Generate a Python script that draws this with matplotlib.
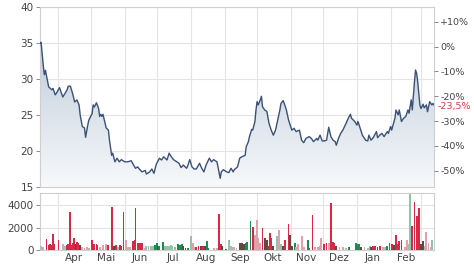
import numpy as np
import pandas as pd
import matplotlib
matplotlib.use("Agg")
import matplotlib.pyplot as plt
import matplotlib.dates as mdates
from matplotlib.patches import Polygon
from matplotlib.colors import LinearSegmentedColormap
from matplotlib.ticker import FixedLocator, NullFormatter

# ---------------- data ----------------
start_date = "2022-03-15"
end_day = 363

price_days = [0, 1, 3, 4, 5, 8, 11, 12, 14, 15, 18, 21, 25, 26, 28, 30, 32, 34, 36, 37,
              39, 41, 42, 44, 45, 48, 49, 50, 52, 54, 55, 56, 57, 58, 61, 63, 64, 66, 67, 69,
              71, 73, 75, 78, 81, 84, 86, 88, 90, 92, 94, 97, 98, 101, 103, 105, 107, 110, 112, 114,
              117, 119, 121, 123, 126, 128, 130, 132, 135, 136, 138, 140, 142, 144, 147, 149, 151, 153, 156, 158,
              160, 163, 164, 166, 167, 169, 172, 174, 176, 178, 179, 182, 184, 186, 189, 190, 192, 193, 195, 196,
              198, 199, 200, 201, 203, 204, 205, 207, 209, 211, 213, 215, 217, 219, 221, 222, 224, 225, 227, 229,
              232, 234, 236, 239, 241, 243, 245, 248, 250, 252, 255, 256, 258, 260, 262, 264, 266, 268, 270, 272,
              273, 275, 277, 279, 282, 284, 286, 287, 290, 292, 293, 295, 297, 300, 302, 303, 305, 307, 310, 311,
              313, 315, 317, 320, 321, 323, 324, 327, 328, 330, 331, 333, 335, 337, 339, 340, 342, 343, 345, 346,
              347, 348, 350, 351, 353, 354, 356, 357, 359, 361, 362, 363]
price_values = [35.0, 35.1, 31.9, 30.6, 31.2, 28.9, 28.5, 28.7, 27.8, 28.0, 28.8, 27.5, 28.5, 29.0, 29.0, 28.0, 26.8, 27.1, 26.4, 25.0,
                23.4, 23.2, 21.9, 23.6, 24.3, 25.2, 26.4, 26.1, 26.7, 25.9, 24.8, 25.1, 24.8, 25.1, 23.2, 22.9, 21.5, 19.4, 19.7, 18.5,
                19.0, 18.5, 18.8, 18.5, 18.5, 18.65, 18.1, 17.6, 17.8, 17.4, 17.1, 17.3, 16.8, 17.1, 17.5, 16.9, 18.1, 19.0, 18.75, 19.2,
                18.75, 19.7, 19.2, 18.8, 18.5, 18.3, 17.7, 18.05, 17.6, 17.9, 18.8, 17.8, 17.5, 17.5, 18.3, 17.6, 17.1, 18.05, 19.0, 18.5,
                18.8, 18.5, 17.8, 16.2, 17.1, 17.4, 17.1, 17.0, 17.6, 17.1, 17.4, 17.8, 19.0, 19.2, 19.4, 20.6, 21.3, 22.0, 23.0, 22.9,
                24.1, 25.7, 26.85, 26.4, 27.1, 27.6, 26.15, 25.7, 25.5, 23.85, 22.9, 22.2, 22.9, 24.3, 25.7, 26.6, 27.0, 26.6, 25.7, 24.3,
                22.9, 23.15, 22.7, 22.9, 21.5, 21.15, 21.75, 22.0, 21.75, 21.3, 21.75, 21.5, 22.2, 21.4, 21.4, 21.5, 23.3, 22.0, 21.5, 21.3,
                20.8, 21.75, 22.45, 22.9, 23.85, 24.55, 25.1, 24.55, 24.1, 23.6, 24.1, 23.15, 22.2, 21.5, 21.4, 22.2, 21.5, 21.85, 22.7, 21.85,
                22.2, 22.45, 22.0, 22.7, 22.45, 23.4, 22.9, 24.55, 25.7, 25.0, 25.7, 24.1, 24.55, 24.8, 25.7, 25.25, 27.1, 25.7, 29.6, 31.25,
                30.8, 29.6, 26.4, 25.9, 26.5, 26.0, 26.4, 25.45, 26.85, 26.4, 26.6, 26.4]

volume_days = [1, 3, 6, 8, 9, 11, 12, 13, 17, 21, 23, 25, 26, 28, 29, 30, 31, 33, 34, 35,
               37, 39, 41, 43, 45, 48, 50, 52, 53, 55, 58, 61, 63, 66, 68, 70, 72, 74, 75, 77,
               79, 81, 83, 86, 87, 88, 90, 92, 94, 97, 98, 100, 102, 104, 106, 108, 109, 110, 113, 115,
               117, 119, 121, 122, 124, 127, 129, 131, 132, 134, 136, 139, 141, 143, 144, 146, 148, 150, 152, 154,
               155, 160, 163, 165, 167, 168, 171, 174, 176, 178, 179, 181, 184, 186, 188, 190, 191, 194, 196, 198,
               200, 201, 203, 205, 207, 209, 211, 212, 213, 215, 218, 220, 222, 224, 226, 229, 230, 232, 235, 236,
               238, 241, 243, 247, 248, 251, 253, 256, 258, 259, 262, 264, 266, 268, 270, 271, 273, 276, 279, 282,
               285, 291, 293, 294, 296, 299, 302, 304, 305, 307, 309, 311, 313, 316, 318, 320, 322, 324, 326, 328,
               329, 331, 333, 336, 338, 339, 341, 343, 345, 347, 349, 351, 352, 353, 355, 356, 358, 360, 361]
volume_values = [350, 300, 1000, 450, 500, 450, 1460, 500, 930, 550, 350, 450, 500, 3360, 450, 600, 1080, 500, 700, 650,
                 450, 250, 200, 250, 200, 880, 500, 500, 450, 300, 450, 500, 450, 3850, 400, 450, 300, 450, 400, 3400,
                 880, 250, 250, 800, 850, 3700, 600, 580, 600, 150, 350, 350, 400, 350, 450, 580, 400, 350, 730, 400,
                 400, 350, 450, 400, 300, 500, 450, 550, 350, 200, 150, 1280, 600, 300, 250, 350, 350, 400, 350, 790,
                 200, 150, 150, 3180, 500, 350, 100, 930, 350, 300, 250, 200, 650, 600, 550, 650, 700, 2540, 2040, 1370,
                 2630, 1080, 600, 1960, 1080, 880, 400, 1520, 1080, 350, 1280, 1750, 500, 400, 930, 2300, 1370, 400, 640, 300,
                 500, 1230, 250, 930, 200, 3120, 300, 250, 350, 1080, 500, 580, 650, 4200, 700, 600, 400, 250, 300, 150,
                 300, 580, 500, 550, 300, 250, 200, 350, 300, 350, 400, 300, 350, 250, 300, 350, 580, 500, 450, 1370,
                 500, 800, 850, 300, 930, 500, 4960, 2100, 4260, 2980, 3700, 550, 400, 790, 400, 1580, 600, 300, 930]
volume_kind = ["gr", "gr", "r", "r", "r", "r", "r", "r", "r", "gr", "gr", "r", "r", "r", "r", "r", "r", "d", "r", "r",
               "d", "p", "p", "p", "p", "r", "r", "r", "r", "p", "p", "p", "r", "r", "d", "r", "p", "r", "r", "r",
               "p", "p", "p", "r", "r", "r", "r", "r", "r", "p", "lg", "lg", "lg", "lg", "g", "g", "d", "g", "g", "lg",
               "lg", "lg", "lg", "lg", "lg", "g", "g", "g", "d", "d", "g", "lg", "p", "p", "r", "r", "d", "r", "d", "g",
               "g", "p", "p", "r", "r", "d", "g", "lg", "gr", "gr", "gr", "gr", "d", "d", "d", "g", "g", "g", "r", "p",
               "p", "p", "p", "r", "d", "d", "r", "r", "r", "d", "lg", "p", "lg", "d", "r", "r", "d", "d", "g", "p",
               "p", "p", "p", "g", "g", "r", "p", "p", "p", "p", "r", "r", "p", "r", "r", "r", "d", "p", "p", "gr",
               "g", "g", "g", "g", "d", "gr", "gr", "lg", "d", "r", "r", "d", "r", "gr", "gr", "g", "g", "r", "d", "r",
               "r", "r", "r", "p", "p", "gr", "lg", "r", "r", "r", "r", "d", "d", "d", "gr", "p", "p", "gr", "lg"]

month_labels = ["Apr", "Mai", "Jun", "Jul", "Aug", "Sep", "Okt", "Nov", "Dez", "Jan", "Feb"]
month_label_dates = ["2022-04-15", "2022-05-15", "2022-06-15", "2022-07-15", "2022-08-15", "2022-09-15",
                     "2022-10-15", "2022-11-15", "2022-12-15", "2023-01-15", "2023-02-15"]
month_start_dates = ["2022-04-01", "2022-05-01", "2022-06-01", "2022-07-01", "2022-08-01", "2022-09-01",
                     "2022-10-01", "2022-11-01", "2022-12-01", "2023-01-01", "2023-02-01", "2023-03-01"]

base_price = 34.5
pct_ticks = [10, 0, -10, -20, -30, -40, -50]
last_change_label = "-23,5%"
price_ticks = [15, 20, 25, 30, 35, 40]
volume_ticks = [0, 2000, 4000]

# ---------------- style ----------------
kind_colors = {"r": "#d42a45", "p": "#e3a0aa", "d": "#5e4a40", "g": "#1f8a52",
               "lg": "#90c4a6", "gr": "#bdb3b5"}
line_color = "#3b5175"
grid_color = "#e4e4e4"
spine_color = "#cfcfcf"
text_color = "#444444"
fs = 7.5
fs_right = 6.8

t0 = pd.Timestamp(start_date)
pdates = [t0 + pd.Timedelta(days=d) for d in price_days]
vdates = [t0 + pd.Timedelta(days=d) for d in volume_days]
xmin = mdates.date2num(t0)
xmax = mdates.date2num(t0 + pd.Timedelta(days=end_day))

fig = plt.figure(figsize=(4.74, 2.69), dpi=100)
ax = fig.add_axes([40 / 474, 1 - 187 / 269, 394 / 474, 180 / 269])
axv = fig.add_axes([40 / 474, 1 - 250 / 269, 394 / 474, 57 / 269])

for a in (ax, axv):
    a.set_xlim(xmin, xmax)
    for s in a.spines.values():
        s.set_color(spine_color)
        s.set_linewidth(0.8)
    a.xaxis.set_major_locator(FixedLocator(mdates.date2num(pd.to_datetime(month_start_dates))))
    a.xaxis.set_major_formatter(NullFormatter())
    a.grid(True, color=grid_color, linewidth=0.8)
    a.set_axisbelow(True)
    a.tick_params(axis="x", which="both", length=0)
    a.tick_params(axis="y", length=3, width=0.6, color="#777777", labelsize=fs,
                  labelcolor=text_color, pad=1.5)

# price panel
ax.set_ylim(15, 40)
ax.set_yticks(price_ticks)
px = mdates.date2num(pd.to_datetime(pdates))
verts = [(px[0], 15)] + list(zip(px, price_values)) + [(px[-1], 15)]
poly = Polygon(verts, closed=True, facecolor="none", edgecolor="none")
ax.add_patch(poly)
cmap = LinearSegmentedColormap.from_list("g", ["#f7f9fb", "#b3c2d3"])
grad = np.linspace(0, 1, 256).reshape(-1, 1)
im = ax.imshow(grad, extent=[xmin, xmax, 15, 40], origin="lower", aspect="auto",
               cmap=cmap, zorder=1, interpolation="bicubic")
im.set_clip_path(poly)
ax.plot(px, price_values, color=line_color, linewidth=1.0, zorder=3)
ax.set_xlim(xmin, xmax)
ax.set_ylim(15, 40)

# right percent axis
axr = ax.twinx()
axr.set_ylim(15, 40)
axr.set_yticks([base_price * (1 + p / 100) for p in pct_ticks])
axr.set_yticklabels([("+%d%%" % p) if p > 0 else ("%d%%" % p) for p in pct_ticks])
axr.tick_params(axis="y", length=3, width=0.6, color="#777777", labelsize=fs_right,
                labelcolor=text_color, pad=1.5)
for s in axr.spines.values():
    s.set_visible(False)
last_price = price_values[-1]
axr.annotate(last_change_label, xy=(1, last_price), xycoords=("axes fraction", "data"),
             xytext=(2.5, -1), textcoords="offset points", color="#e0354f", fontsize=fs_right,
             va="center", ha="left")

# volume panel
axv.set_ylim(0, 5070)
axv.set_yticks(volume_ticks)
vx = mdates.date2num(pd.to_datetime(vdates))
axv.bar(vx, volume_values, width=1.7, color=[kind_colors[k] for k in volume_kind],
        linewidth=0, zorder=3)
axv.xaxis.set_minor_locator(FixedLocator(mdates.date2num(pd.to_datetime(month_label_dates))))
axv.xaxis.set_minor_formatter(matplotlib.ticker.FixedFormatter(month_labels))
axv.tick_params(axis="x", which="minor", labelsize=fs, labelcolor=text_color, pad=2)

fig.savefig("out.png", dpi=100)
